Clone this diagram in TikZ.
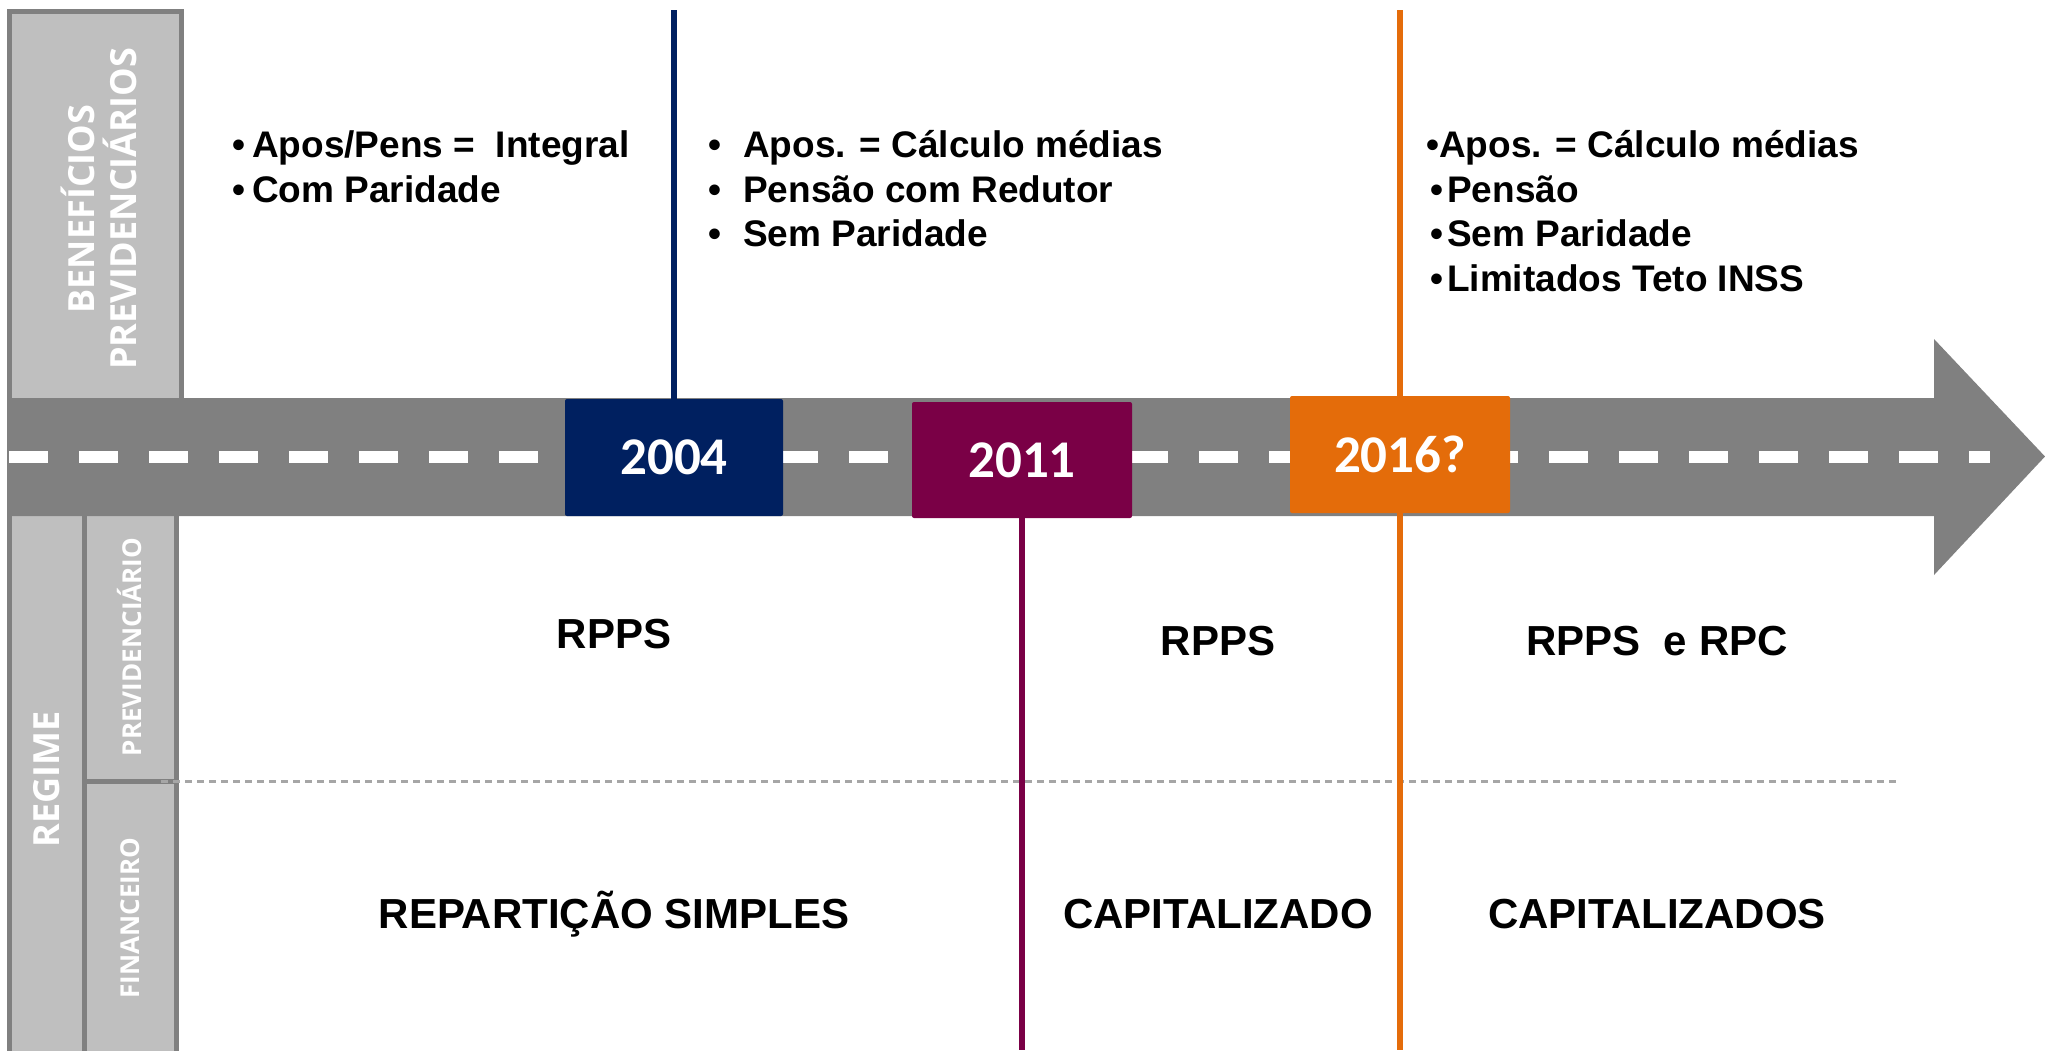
\documentclass[tikz,border=0pt]{standalone}
\usepackage{fontspec}
\setmainfont{Liberation Sans}
\newfontfamily\osans{Open Sans}
\newfontfamily\carl{Carlito}
\definecolor{roadgray}{HTML}{808080}
\definecolor{panelgray}{HTML}{BFBFBF}
\definecolor{navy}{HTML}{002060}
\definecolor{wine}{HTML}{7A0046}
\definecolor{orng}{HTML}{E46C0A}
\definecolor{divgray}{HTML}{A6A6A6}
\newcommand\bul[1]{\makebox[#1][l]{•}}
\begin{document}
\begin{tikzpicture}[x=1pt,y=-1pt,
  panelst/.style={fill=panelgray, draw=roadgray, line width=5pt},
  yearbox/.style={inner sep=0pt, text=white, rounded corners=2pt,
    font=\carl\bfseries\fontsize{53}{60}\selectfont},
  ptxt/.style={text=white, inner sep=0pt, rotate=90, align=center},
  body/.style={anchor=base west, inner sep=0pt,
    font=\bfseries\fontsize{37}{44}\selectfont},
  big/.style={anchor=base, inner sep=0pt,
    font=\bfseries\fontsize{42}{50}\selectfont},
  vline/.style={line width=6pt}]
\useasboundingbox (0,0) rectangle (2045,1050);
% panels
\draw[panelst] (9.5,11.5) rectangle (181,420);
\draw[panelst] (9.5,500) rectangle (84.5,1060);
\draw[panelst] (84.5,500) rectangle (176.5,781.5);
\draw[panelst] (84.5,781.5) rectangle (176.5,1060);
% road arrow
\fill[roadgray] (7,398) -- (1934,398) -- (1934,339) -- (2045,456.5)
  -- (1934,575) -- (1934,516) -- (7,516) -- cycle;
\draw[white, line width=12pt, dash pattern=on 39pt off 31pt] (9,456.5) -- (1990,456.5);
% divider
\draw[divgray, line width=2.5pt, dash pattern=on 7pt off 5pt] (161,781.5) -- (1898,781.5);
% free ends
\coordinate (t04) at (674,10);
\coordinate (t16) at (1400,10);
\coordinate (b11) at (1022,1050);
\coordinate (b16) at (1400,1050);
% year boxes
\node[yearbox, fill=navy, minimum width=218pt, minimum height=117pt] (y04) at (674,457.5) {2004};
\node[yearbox, fill=wine, minimum width=220pt, minimum height=116pt] (y11) at (1022,460) {2011};
\node[yearbox, fill=orng, minimum width=220pt, minimum height=117pt] (y16) at (1400,454.5) {2016?};
\draw[navy, vline] (y04.north) -- (t04);
\draw[wine, vline] (y11.south) -- (b11);
\draw[orng, vline] (y16.north) -- (t16);
\draw[orng, vline] (y16.south) -- (b16);
% panel labels
\node[ptxt, font=\osans\bfseries\fontsize{36}{42}\selectfont] (pben) at (99,209) {BENEFÍCIOS\\PREVIDENCIÁRIOS};
\node[ptxt, font=\osans\bfseries\fontsize{36}{42}\selectfont] (preg) at (47,779) {REGIME};
\node[ptxt, font=\osans\bfseries\fontsize{26}{30}\selectfont] (pprev) at (130,647) {PREVIDENCIÁRIO};
\node[ptxt, font=\osans\bfseries\fontsize{26}{30}\selectfont] (pfin) at (130,918) {FINANCEIRO};
% block 1
\node[body] (a1) at (232,157) {\bul{20pt}Apos/Pens =\ \ Integral};
\node[body] (a2) at (232,202) {\bul{20pt}Com Paridade};
% block 2
\node[body] (c1) at (708,157) {\bul{35pt}Apos. = Cálculo médias};
\node[body] (c2) at (708,202) {\bul{35pt}Pensão com Redutor};
\node[body] (c3) at (708,246) {\bul{35pt}Sem Paridade};
% block 3
\node[body] (d1) at (1426,157) {\bul{13pt}Apos. = Cálculo médias};
\node[body] (d2) at (1430,202) {\bul{17pt}Pensão};
\node[body] (d3) at (1430,246) {\bul{17pt}Sem Paridade};
\node[body] (d4) at (1430,291) {\bul{17pt}Limitados Teto INSS};
% bottom texts
\node[big] (r1) at (614,648) {RPPS};
\node[big] (r2) at (1218,655) {RPPS};
\node[big] (r3) at (1657,655) {RPPS\ \ e RPC};
\node[big] (f1) at (614,928) {REPARTIÇÃO SIMPLES};
\node[big] (f2) at (1218,928) {CAPITALIZADO};
\node[big] (f3) at (1657,928) {CAPITALIZADOS};
\end{tikzpicture}
\end{document}
